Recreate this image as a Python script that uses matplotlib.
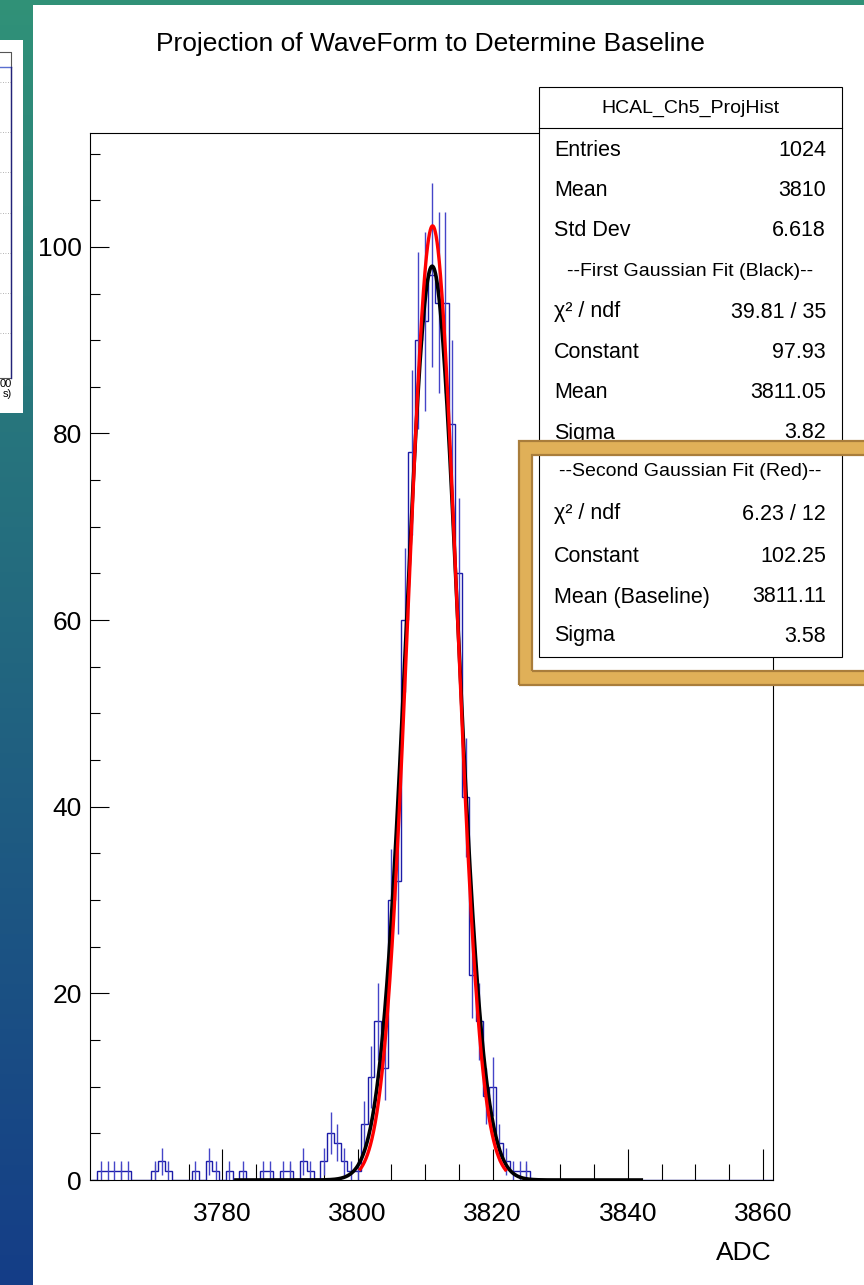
import numpy as np
import matplotlib
matplotlib.use("Agg")
import matplotlib.pyplot as plt
from matplotlib.patches import Rectangle
from matplotlib.lines import Line2D
from matplotlib.ticker import MultipleLocator

plt.rcParams['font.family'] = ['Liberation Sans', 'DejaVu Sans']

# histogram contents (ADC bin centre -> entries)
adc_bins = [3762, 3763, 3764, 3765, 3766, 3770, 3771, 3772, 3776, 3778, 3779,
            3781, 3783, 3786, 3787, 3789, 3790, 3792, 3793, 3795, 3796, 3797,
            3798, 3799, 3800, 3801, 3802, 3803, 3804, 3805, 3806, 3807, 3808,
            3809, 3810, 3811, 3812, 3813, 3814, 3815, 3816, 3817, 3818, 3819,
            3820, 3821, 3822, 3823, 3824, 3825]
bin_counts = [1, 1, 1, 1, 1, 1, 2, 1, 1, 2, 1,
              1, 1, 1, 1, 1, 1, 2, 1, 2, 5, 4,
              2, 1, 1, 6, 11, 17, 12, 30, 32, 60, 78,
              90, 92, 97, 94, 94, 81, 65, 41, 22, 17, 9,
              10, 4, 2, 1, 1, 1]
hist_lo, hist_hi = 3760.5, 3861.5

# fit results
black_fit = dict(const=97.93, mean=3811.05, sigma=3.82, lo=3782.0, hi=3842.0)
red_fit = dict(const=102.25, mean=3811.11, sigma=3.58, lo=3800.4, hi=3821.9)

stats_top = [("Entries", "1024"), ("Mean", "3810"), ("Std Dev", "6.618"),
             ("--First Gaussian Fit (Black)--", None),
             ("χ² / ndf", "39.81 / 35"), ("Constant", "97.93"),
             ("Mean", "3811.05"), ("Sigma", "3.82")]
stats_bottom = [("--Second Gaussian Fit (Red)--", None),
                ("χ² / ndf", "6.23 / 12"), ("Constant", "102.25"),
                ("Mean (Baseline)", "3811.11"), ("Sigma", "3.58")]

W, H = 864, 1285


def fx(x):
    return x / W


def fy(y):
    return 1 - y / H


def px_rect(x0, y0, x1, y1, **kw):
    return Rectangle((fx(x0), fy(y1)), (x1 - x0) / W, (y1 - y0) / H,
                     transform=fig.transFigure, **kw)


fig = plt.figure(figsize=(W / 100, H / 100), dpi=100)

# slide background
bg = fig.add_axes([0, 0, 1, 1], zorder=-2)
grad = np.linspace(0, 1, 256)[:, None]
top_c = np.array([0.19, 0.57, 0.47])
bot_c = np.array([0.08, 0.24, 0.53])
img = top_c[None, None, :] * (1 - grad[..., None]) + bot_c[None, None, :] * grad[..., None]
bg.imshow(img, aspect='auto', extent=[0, 1, 0, 1])
bg.set_axis_off()

# white canvas of the ROOT plot
fig.add_artist(px_rect(33, 5, 870, 1290, facecolor='white', edgecolor='none', zorder=-1))

# partial inset plot at the left edge of the slide
fig.add_artist(px_rect(-5, 40, 23, 413, facecolor='white', edgecolor='none', zorder=-1))
for gy in [82, 132, 172, 213, 253, 293, 333]:
    fig.add_artist(Line2D([0, fx(11)], [fy(gy), fy(gy)], transform=fig.transFigure,
                          color='#999999', lw=0.6, ls=(0, (1, 2)), zorder=-0.9))
fig.add_artist(Line2D([0, fx(11), fx(11), 0], [fy(52), fy(52), fy(378), fy(378)],
                      transform=fig.transFigure, color='#555555', lw=0.8, zorder=-0.9))
fig.add_artist(Line2D([0, fx(10.5)], [fy(67), fy(67)],
                      transform=fig.transFigure, color='#5a6fd0', lw=1.0, zorder=-0.8))
fig.add_artist(Line2D([fx(10.5), fx(10.5)], [fy(67), fy(378)],
                      transform=fig.transFigure, color='#22227a', lw=1.0, zorder=-0.8))
fig.text(fx(12), fy(384), "00", fontsize=8, ha='right', va='center', zorder=-0.7)
fig.text(fx(12), fy(394), "s)", fontsize=8, ha='right', va='center', zorder=-0.7)

# main histogram axes
ax = fig.add_axes([fx(90), fy(1180), (773 - 90) / W, (1180 - 133) / H], zorder=0)
edges = np.arange(hist_lo, hist_hi + 0.5, 1.0)
centers = 0.5 * (edges[:-1] + edges[1:])
counts = np.zeros(len(centers))
for b, c in zip(adc_bins, bin_counts):
    counts[int(round(b - centers[0]))] = c

ax.stairs(counts, edges, color='#1c1ca8', lw=1.0, zorder=2)
nz = counts > 0
err = np.sqrt(counts[nz])
ax.vlines(centers[nz], np.clip(counts[nz] - err, 0, None), counts[nz] + err,
          color='#4545c8', lw=1.0, zorder=2)


def gauss(p):
    xs = np.linspace(p['lo'], p['hi'], 600)
    return xs, p['const'] * np.exp(-0.5 * ((xs - p['mean']) / p['sigma']) ** 2)


bx, by = gauss(black_fit)
ax.plot(bx, by, color='black', lw=2.6, zorder=3)
rx, ry = gauss(red_fit)
ax.plot(rx, ry, color='#ff0000', lw=2.4, zorder=4)

ax.set_xlim(3760.4, 3861.5)
ax.set_ylim(0, 112.2)
ax.set_xticks([3780, 3800, 3820, 3840, 3860])
ax.xaxis.set_minor_locator(MultipleLocator(5))
ax.set_yticks([0, 20, 40, 60, 80, 100])
ax.yaxis.set_minor_locator(MultipleLocator(5))
ax.tick_params(axis='x', which='major', direction='in', length=22, width=0.8,
               labelsize=19, pad=16)
ax.tick_params(axis='x', which='minor', direction='in', length=11.5, width=0.8)
ax.tick_params(axis='y', which='major', direction='in', length=14, width=0.8,
               labelsize=19, pad=6)
ax.tick_params(axis='y', which='minor', direction='in', length=7, width=0.8)
for s in ax.spines.values():
    s.set_linewidth(0.8)

fig.text(fx(772), fy(1253), "ADC", fontsize=19, ha='right', va='center')
fig.text(fx(430), fy(44), "Projection of WaveForm to Determine Baseline",
         fontsize=19, ha='center', va='center')

# stats boxes
lw1 = 0.8
fig.add_artist(px_rect(538.5, 87, 841.5, 452, facecolor='white', edgecolor='black', lw=lw1, zorder=5))
fig.add_artist(Line2D([fx(538.5), fx(841.5)], [fy(128), fy(128)], transform=fig.transFigure,
                      color='black', lw=lw1, zorder=6))
fig.text(fx(690), fy(108), "HCAL_Ch5_ProjHist", fontsize=14, ha='center', va='center', zorder=7)
row_y = [151, 191, 231, 271, 312, 352, 393, 433]
for (lab, val), yy in zip(stats_top, row_y):
    if val is None:
        fig.text(fx(690), fy(yy), lab, fontsize=14, ha='center', va='center', zorder=7)
    else:
        fig.text(fx(554), fy(yy), lab, fontsize=15.5, ha='left', va='center', zorder=7)
        fig.text(fx(826), fy(yy), val, fontsize=15.5, ha='right', va='center', zorder=7)

fig.add_artist(px_rect(538.5, 452, 841.5, 657, facecolor='white', edgecolor='black', lw=lw1, zorder=5))
row_y2 = [472, 514, 557, 597, 636]
for (lab, val), yy in zip(stats_bottom, row_y2):
    if val is None:
        fig.text(fx(690), fy(yy), lab, fontsize=14, ha='center', va='center', zorder=7)
    else:
        fig.text(fx(554), fy(yy), lab, fontsize=15.5, ha='left', va='center', zorder=7)
        fig.text(fx(826), fy(yy), val, fontsize=15.5, ha='right', va='center', zorder=7)

# gold highlight frame (three filled strips, open to the right edge)
gold, gold_dark = '#e0b058', '#a97d3b'
for x0, y0, x1, y1 in [(519, 441, 880, 455), (519, 441, 532, 685), (519, 671, 880, 685)]:
    fig.add_artist(px_rect(x0, y0, x1, y1, facecolor=gold, edgecolor='none', zorder=8))
fig.add_artist(px_rect(519, 441, 890, 685, facecolor='none', edgecolor=gold_dark,
                       lw=1.6, zorder=9))
fig.add_artist(px_rect(532, 455, 870, 671, facecolor='none', edgecolor=gold_dark,
                       lw=1.6, zorder=9))

fig.savefig("out.png", dpi=100)
